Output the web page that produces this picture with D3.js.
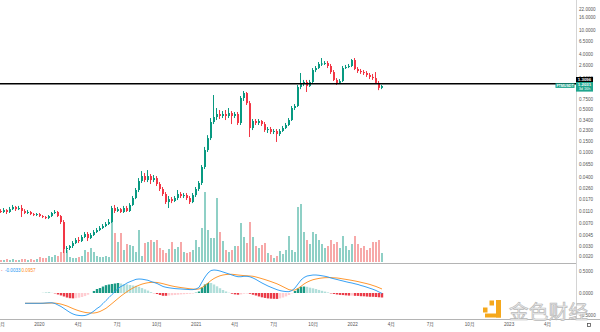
<!DOCTYPE html>
<html><head><meta charset="utf-8">
<script src="https://cdn.jsdelivr.net/npm/d3@7"></script>
<style>html,body{margin:0;padding:0;background:#fff;overflow:hidden}svg{display:block}</style>
</head><body><svg id="c" width="600" height="332"></svg>
<script>
// ---------------- DATA ----------------
const symbol = "FTMUSDT";
const firstWeek = [2019, 9, 7]; // Monday 2019-10-07, weekly candles
const opens = [
.0110,.0106,.0114,.0106,.0118,.0128,.0118,.0123,.0110,.0102,
.0106,.00981,.00945,.00981,.00910,.00877,.00844,.00910,.0102,.0106,
.00910,.00727,.00264,.00274,.00295,.00330,.00370,.00356,.00414,.00463,
.00398,.00446,.00499,.00538,.00580,.00625,.00674,.00727,.0123,.0110,
.0118,.0106,.0123,.0110,.0138,.0179,.0242,.0339,.0409,.0352,
.0409,.0352,.0379,.0303,.0251,.0208,.0154,.0172,.0160,.0179,
.0208,.0193,.0200,.0179,.0154,.0200,.0251,.0315,.0574,.1086,
.170,.311,.375,.420,.390,.420,.390,.436,.390,.420,
.300,.766,.924,.632,.248,.323,.300,.323,.288,.230,
.239,.214,.222,.198,.222,.248,.278,.335,.526,.567,
1.16,1.30,1.40,1.20,1.40,2.19,2.36,2.75,2.80,2.85,
2.55,2.03,1.51,1.35,1.45,2.36,2.45,2.55,3.19,2.28,
2.11,2.03,1.96,1.82,1.69,1.62,1.35,1.12];
const highs = [
.0118,.0123,.0118,.0128,.0138,.0133,.0133,.0138,.0118,.0114,
.0110,.0102,.0102,.0102,.00945,.00910,.00945,.0106,.0114,.0110,
.00945,.00783,.00295,.00306,.00356,.00398,.00414,.00446,.00499,.00499,
.00481,.00538,.00580,.00625,.00674,.00727,.00813,.0133,.0138,.0128,
.0123,.0133,.0133,.0148,.0193,.0261,.0379,.0493,.0458,.0512,
.0441,.0425,.0409,.0326,.0271,.0224,.0193,.0186,.0193,.0242,
.0224,.0216,.0216,.0193,.0216,.0271,.0339,.0618,.122,.190,
.361,.857,.526,.488,.470,.488,.526,.470,.453,.453,
.826,.996,.960,.685,.348,.348,.348,.335,.311,.258,
.258,.239,.239,.239,.268,.300,.361,.567,.611,1.25,
1.96,1.51,1.51,1.51,2.36,2.55,2.96,3.44,3.07,3.07,
2.75,2.19,1.62,1.56,2.55,2.65,2.75,3.31,3.44,2.45,
2.28,2.19,2.11,1.96,1.89,2.03,1.45,1.25];
const lows = [
.0102,.0102,.00981,.0102,.0114,.0110,.0114,.00877,.00981,.00981,
.00945,.00910,.00910,.00877,.00844,.00813,.00813,.00877,.00981,.00877,
.00674,.00227,.00227,.00254,.00274,.00318,.00330,.00343,.00398,.00356,
.00384,.00430,.00481,.00518,.00560,.00602,.00650,.00700,.0102,.0106,
.0102,.0102,.0106,.0106,.0133,.0172,.0224,.0315,.0326,.0326,
.0303,.0326,.0281,.0233,.0193,.0143,.0123,.0148,.0154,.0166,
.0179,.0179,.0166,.0143,.0148,.0186,.0233,.0292,.0532,.1008,
.158,.288,.335,.348,.361,.335,.361,.288,.361,.278,
.278,.685,.589,.177,.230,.278,.278,.268,.214,.206,
.198,.198,.147,.184,.214,.239,.268,.323,.488,.546,
1.07,1.20,0.96,1.16,1.35,2.03,2.28,2.55,2.65,2.36,
1.89,1.45,1.25,1.30,1.40,2.28,2.36,2.45,2.19,1.96,
1.89,1.82,1.69,1.56,1.51,1.30,1.03,1.07];
const closes = [
.0106,.0114,.0106,.0118,.0128,.0118,.0123,.0110,.0102,.0106,
.00981,.00945,.00981,.00910,.00877,.00844,.00910,.0102,.0106,.00910,
.00727,.00264,.00274,.00295,.00330,.00370,.00356,.00414,.00463,.00398,
.00446,.00499,.00538,.00580,.00625,.00674,.00727,.0123,.0110,.0118,
.0106,.0123,.0110,.0138,.0179,.0242,.0339,.0409,.0352,.0409,
.0352,.0379,.0303,.0251,.0208,.0154,.0172,.0160,.0179,.0208,
.0193,.0200,.0179,.0154,.0200,.0251,.0315,.0574,.1086,.170,
.311,.375,.420,.390,.420,.390,.436,.390,.420,.300,
.766,.924,.632,.248,.323,.300,.323,.288,.230,.239,
.214,.222,.198,.222,.248,.278,.335,.526,.567,1.16,
1.30,1.40,1.20,1.40,2.19,2.36,2.75,2.80,2.85,2.55,
2.03,1.51,1.35,1.45,2.36,2.45,2.55,3.19,2.28,2.11,
2.03,1.96,1.82,1.69,1.62,1.35,1.12,1.2031];
const volumes = [
20,20,30,20,30,20,20,30,30,20,30,20,30,
50,40,40,60,50,70,60,100,
140,120,50,40,40,50,60,120,100,140,
100,60,50,50,60,50,540,290,200,290,
120,180,170,160,100,320,60,190,200,
220,200,220,140,120,90,130,200,130,150,
200,100,90,100,120,220,150,340,700,320,
240,240,640,300,210,120,100,120,160,160,
390,250,190,400,250,160,140,170,190,90,
70,40,60,110,80,120,260,120,100,550,
580,300,220,180,300,280,220,180,140,160,
220,180,200,140,260,160,120,180,260,180,
140,160,120,140,200,200,220,90];
const macdLine = [
null,null,null,null,null,null,null,null,
-0.234,-0.234,-0.234,-0.234,-0.234,-0.234,-0.232,-0.227,-0.223,-0.223,
-0.239,-0.273,-0.307,-0.352,-0.398,-0.443,-0.477,-0.500,-0.511,-0.516,
-0.511,-0.489,-0.455,-0.409,-0.352,-0.307,-0.239,-0.170,-0.102,-0.034,
0.034,0.102,0.148,0.182,0.227,0.257,0.284,0.311,0.318,0.314,
0.302,0.289,0.261,0.239,0.216,0.182,0.148,0.130,0.118,0.109,
0.100,0.095,0.091,0.086,0.082,0.077,0.077,0.091,0.125,0.250,
0.364,0.455,0.511,0.523,0.516,0.500,0.477,0.455,0.432,0.409,
0.386,0.370,0.370,0.380,0.380,0.368,0.341,0.307,0.266,0.227,
0.193,0.159,0.130,0.102,0.075,0.055,0.041,0.032,0.030,0.057,
0.114,0.205,0.295,0.352,0.386,0.398,0.409,0.409,0.402,0.391,
0.380,0.364,0.341,0.323,0.307,0.289,0.273,0.255,0.239,0.227,
0.209,0.193,0.170,0.152,0.130,0.107,0.084,0.057,0.023,-0.011];
const signalLine = [
null,null,null,null,null,null,null,null,
-0.234,-0.234,-0.234,-0.234,-0.234,-0.234,-0.234,-0.232,-0.230,-0.227,
-0.230,-0.239,-0.252,-0.273,-0.295,-0.325,-0.355,-0.382,-0.405,-0.425,
-0.441,-0.450,-0.455,-0.455,-0.443,-0.420,-0.386,-0.348,-0.295,-0.239,
-0.182,-0.125,-0.068,-0.018,0.030,0.075,0.114,0.148,0.177,0.202,
0.220,0.234,0.241,0.243,0.239,0.227,0.211,0.193,0.175,0.159,
0.145,0.134,0.123,0.114,0.105,0.095,0.089,0.084,0.091,0.123,
0.170,0.227,0.284,0.330,0.364,0.391,0.409,0.420,0.425,0.425,
0.418,0.409,0.402,0.395,0.391,0.386,0.380,0.364,0.345,0.325,
0.305,0.282,0.259,0.234,0.209,0.177,0.143,0.109,0.075,0.064,
0.068,0.102,0.152,0.205,0.245,0.277,0.302,0.318,0.332,0.341,
0.348,0.350,0.350,0.345,0.341,0.332,0.320,0.309,0.298,0.286,
0.273,0.259,0.243,0.227,0.211,0.193,0.170,0.148,0.120,0.091];
const priceTicks = [22,16,10,6.5,4,2.6,1.6,0.75,0.5,0.34,0.23,0.15,0.1,0.065,0.04,0.026,0.017,0.011,0.007,0.0045,0.003,0.002];
const macdTicks = [0.5, 0, -0.5];
const lineLevel = 1.3096;
const lastPrice = 1.2031;
const countdown = "3d 16h";
const macdLegend = ["-", "-0.0033", "0.0957"];
const watermark = "金色财经";

// ---------------- RENDER ----------------
const svg = d3.select("#c");
const n = closes.length;
const start = new Date(firstWeek[0], firstWeek[1], firstWeek[2]);
const dates = d3.range(n).map(i => d3.timeDay.offset(start, 7 * i));
const AX = 576;
const up = "#089981", down = "#f23645";
const font = "'Liberation Sans','Noto Sans CJK SC',sans-serif";

const x = d3.scaleTime().domain([dates[0], dates[n - 1]]).range([1, 382]);
const y = d3.scaleLog().domain([0.00162, 30.4]).range([262, 0]);
const yv = d3.scaleLinear().domain([0, 720]).range([262, 190]);
const ym = d3.scaleLinear().domain([-0.5, 0.5]).range([315, 271]);
const cx = i => Math.round(x(dates[i]));
const idx = d3.range(n);
const isUp = i => closes[i] >= opens[i];

const defs = svg.append("defs");
defs.append("clipPath").attr("id", "cm").append("rect").attr("x", 0).attr("y", 0).attr("width", AX).attr("height", 262);
defs.append("clipPath").attr("id", "cd").append("rect").attr("x", 0).attr("y", 264).attr("width", AX).attr("height", 54);

const main = svg.append("g").attr("clip-path", "url(#cm)");
// volume
main.selectAll("rect.v").data(idx).join("rect").attr("class", "v")
  .attr("x", i => cx(i) - 1).attr("width", 2)
  .attr("y", i => yv(volumes[i])).attr("height", i => yv(0) - yv(volumes[i]))
  .attr("fill", i => isUp(i) ? "#8fd0c6" : "#f7a8a8");
// wicks
main.selectAll("line.w").data(idx).join("line").attr("class", "w")
  .attr("x1", i => cx(i) - 0.5).attr("x2", i => cx(i) - 0.5)
  .attr("y1", i => y(highs[i])).attr("y2", i => y(lows[i]))
  .attr("stroke", i => isUp(i) ? up : down).attr("stroke-width", 1);
// bodies
main.selectAll("rect.b").data(idx).join("rect").attr("class", "b")
  .attr("x", i => cx(i) - 1).attr("width", 2)
  .attr("y", i => Math.min(y(opens[i]), y(closes[i])))
  .attr("height", i => Math.max(1, Math.abs(y(opens[i]) - y(closes[i]))))
  .attr("fill", i => isUp(i) ? up : down);
// horizontal level line
svg.append("line").attr("x1", 0).attr("x2", AX).attr("y1", y(lineLevel)).attr("y2", y(lineLevel))
  .attr("stroke", "#000").attr("stroke-width", 1.3);

// separators
svg.append("line").attr("x1", 0).attr("x2", AX).attr("y1", 263.5).attr("y2", 263.5).attr("stroke", "#b4b4b4");
svg.append("line").attr("x1", 0).attr("x2", 600).attr("y1", 319.5).attr("y2", 319.5).attr("stroke", "#b4b4b4");
svg.append("line").attr("x1", AX + 0.5).attr("x2", AX + 0.5).attr("y1", 0).attr("y2", 319).attr("stroke", "#d4d4d4");

// MACD pane
const macdG = svg.append("g").attr("clip-path", "url(#cd)");
const hist = idx.map(i => (macdLine[i] == null || signalLine[i] == null) ? null : macdLine[i] - signalLine[i]);
const histColor = i => {
  const h = hist[i], p = i > 0 && hist[i - 1] != null ? hist[i - 1] : 0;
  if (h >= 0) return h >= p ? "#1a9a85" : "#b2dfdb";
  return h <= p ? "#eb3b48" : "#ffcdd2";
};
const hIdx = idx.filter(i => hist[i] != null);
macdG.selectAll("rect.h").data(hIdx).join("rect").attr("class", "h")
  .attr("x", i => cx(i) - 1.2).attr("width", 2.4)
  .attr("y", i => Math.min(ym(0), ym(hist[i])))
  .attr("height", i => Math.abs(ym(hist[i]) - ym(0)))
  .attr("fill", histColor);
const mk = arr => d3.line().defined(i => arr[i] != null).x(i => x(dates[i])).y(i => ym(arr[i]));
macdG.append("path").attr("d", mk(signalLine)(idx)).attr("fill", "none").attr("stroke", "#ff8c1a").attr("stroke-width", 0.9);
macdG.append("path").attr("d", mk(macdLine)(idx)).attr("fill", "none").attr("stroke", "#2196f3").attr("stroke-width", 0.9);

// MACD legend
const lg = svg.append("g").attr("font-family", font).attr("font-size", 4.6);
lg.append("text").attr("x", 1).attr("y", 271.5).attr("fill", "#ef5350").text(macdLegend[0]);
lg.append("text").attr("x", 5).attr("y", 271.5).attr("fill", "#2196f3").text(macdLegend[1]);
lg.append("text").attr("x", 21.5).attr("y", 271.5).attr("fill", "#ff8c1a").text(macdLegend[2]);

// Price axis
const yAxis = svg.append("g").attr("transform", `translate(${AX},0)`)
  .call(d3.axisRight(y).tickValues(priceTicks).tickFormat(d3.format(".4f")).tickSize(0).tickPadding(3));
yAxis.select(".domain").remove();
yAxis.selectAll("text").attr("font-family", font).attr("font-size", 4.6).attr("fill", "#555");

// MACD axis
const mAxis = svg.append("g").attr("transform", `translate(${AX},0)`)
  .call(d3.axisRight(ym).tickValues(macdTicks).tickFormat(d3.format(".4f")).tickSize(0).tickPadding(3));
mAxis.select(".domain").remove();
mAxis.selectAll("text").attr("font-family", font).attr("font-size", 4.6).attr("fill", "#555");

// Time axis
const monthTicks = d3.timeMonth.every(3).range(new Date(2019, 9, 1), new Date(2023, 4, 2));
const xAxis = svg.append("g").attr("transform", "translate(1,319)")
  .call(d3.axisBottom(x).tickValues(monthTicks)
    .tickFormat(d => d.getMonth() === 0 ? String(d.getFullYear()) : (d.getMonth() + 1) + "月")
    .tickSize(0).tickPadding(3.6));
xAxis.select(".domain").remove();
xAxis.selectAll("text").attr("font-family", font).attr("font-size", 4.6).attr("fill", "#555");

// price labels
svg.append("rect").attr("x", AX).attr("y", 77).attr("width", 17).attr("height", 5).attr("fill", "#000");
svg.append("text").attr("x", AX + 8.5).attr("y", 79.6).attr("dy", "0.35em").attr("text-anchor", "middle")
  .attr("font-family", font).attr("font-size", 4.4).attr("font-weight", "bold").attr("fill", "#fff")
  .text(d3.format(".4f")(lineLevel));
svg.append("rect").attr("x", AX).attr("y", 82).attr("width", 17).attr("height", 9.6).attr("fill", "#1ea58d");
svg.append("text").attr("x", AX + 8.5).attr("y", 84.8).attr("dy", "0.35em").attr("text-anchor", "middle")
  .attr("font-family", font).attr("font-size", 4.4).attr("font-weight", "bold").attr("fill", "#fff")
  .text(d3.format(".4f")(lastPrice));
svg.append("text").attr("x", AX + 8.5).attr("y", 89.1).attr("dy", "0.35em").attr("text-anchor", "middle")
  .attr("font-family", font).attr("font-size", 3.8).attr("fill", "#fff").text(countdown);
svg.append("rect").attr("x", 555.5).attr("y", 83.3).attr("width", 19).attr("height", 4.6).attr("fill", "#1ea58d");
svg.append("text").attr("x", 565).attr("y", 85.6).attr("dy", "0.35em").attr("text-anchor", "middle")
  .attr("font-family", font).attr("font-size", 3.6).attr("font-weight", "bold").attr("fill", "#fff").text(symbol);

// corner icon
svg.append("rect").attr("x", 587.5).attr("y", 323.5).attr("width", 3).attr("height", 3)
  .attr("fill", "none").attr("stroke", "#555").attr("stroke-width", 0.8);

// watermark
const wm = svg.append("g");
const org = "#f5a81c";
wm.append("rect").attr("x", 483).attr("y", 307.5).attr("width", 4.5).attr("height", 5).attr("fill", org);
wm.append("rect").attr("x", 489.5).attr("y", 300.5).attr("width", 4.5).attr("height", 5).attr("fill", org);
wm.append("rect").attr("x", 496).attr("y", 300).attr("width", 5).attr("height", 17.5).attr("fill", org);
wm.append("rect").attr("x", 485).attr("y", 313.5).attr("width", 16).attr("height", 4).attr("fill", org);
wm.append("text").attr("x", 509).attr("y", 318.5).attr("font-family", "'Noto Sans CJK SC',sans-serif")
  .attr("font-size", 19.5).attr("fill", "#efefef").attr("stroke", "#b9b9b9").attr("stroke-width", 0.7)
  .attr("letter-spacing", 0.3).text(watermark);
</script></body></html>
